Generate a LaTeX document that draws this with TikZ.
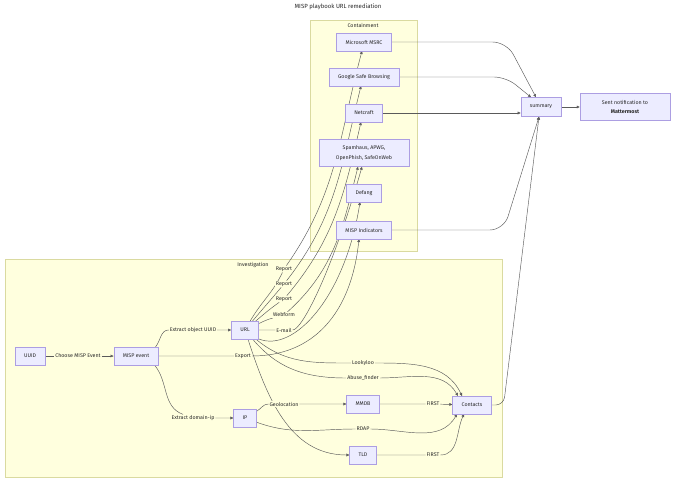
\documentclass[tikz,border=0pt]{standalone}
\usepackage{fontspec}
\setmainfont{Fira Sans}
\usetikzlibrary{arrows.meta,positioning}
\definecolor{mmfill}{RGB}{236,236,255}
\definecolor{mmdraw}{RGB}{172,158,226}
\definecolor{grpfill}{RGB}{255,255,222}
\definecolor{grpdraw}{RGB}{218,218,160}
\definecolor{mmline}{RGB}{90,90,90}
\definecolor{mmtext}{RGB}{40,40,40}
\pgfdeclarelayer{grouplayer}
\pgfdeclarelayer{edgelayer}
\pgfsetlayers{grouplayer,edgelayer,main}

\begin{document}
\begin{tikzpicture}[x=1pt,y=1pt,
box/.style={draw=mmdraw, fill=mmfill, line width=0.5pt, minimum height=17.5pt,
inner xsep=9pt, inner ysep=1pt, align=center, font=\fontsize{5.3}{9.5}\selectfont, text=mmtext},
grp/.style={draw=grpdraw, fill=grpfill, line width=0.5pt},
grplbl/.style={font=\fontsize{5.3}{6}\selectfont, text=mmtext, anchor=north},
lbl/.style={fill=grpfill, inner sep=0.8pt, font=\fontsize{5.3}{6}\selectfont, text=mmtext},
flow/.style={draw=mmline, line width=0.45pt, -{Triangle[length=3pt,width=2.8pt]}}
]
\useasboundingbox (0,0) rectangle (680,-482);

\node[font=\fontsize{6}{7}\selectfont, text=mmtext] (title) at (338,-7) {MISP playbook URL remediation};

\begin{pgfonlayer}{grouplayer}
\draw[grp] (310,-20) rectangle (417,-251);
\draw[grp] (5,-259) rectangle (502,-477);
\end{pgfonlayer}
\node[grplbl] (contain) at (363,-19.5) {Containment};
\node[grplbl] (invest) at (253,-258.5) {Investigation};

\node[box] (msrc) at (364,-42) {Microsoft MSRC};
\node[box] (gsb) at (364,-77) {Google Safe Browsing};
\node[box] (netcraft) at (364,-113) {Netcraft};
\node[box, minimum width=90pt, minimum height=27pt] (spamhaus) at (364,-153) {Spamhaus, APWG,\\OpenPhish, SafeOnWeb};
\node[box] (defang) at (364,-193) {Defang};
\node[box] (mispind) at (364,-230) {MISP Indicators};
\node[box, minimum height=19pt] (summary) at (541,-107) {summary};
\node[box, minimum width=90pt, minimum height=27pt] (notify) at (625,-107) {Sent notification to\\\textbf{Mattermost}};

\node[box] (uuid) at (30,-356) {UUID};
\node[box] (mispevt) at (136,-356) {MISP event};
\node[box] (url) at (245,-330) {URL};
\node[box] (ip) at (245,-418) {IP};
\node[box] (mmdb) at (363,-404) {MMDB};
\node[box] (tld) at (363,-455) {TLD};
\node[box] (contacts) at (472,-405) {Contacts};

\node[lbl] (lchoose) at (78,-356) {Choose MISP Event};
\node[lbl] (lobj) at (193,-330) {Extract object UUID};
\node[lbl] (ldom) at (193,-418) {Extract domain-ip};
\node[lbl] (lexport) at (243,-356) {Export};
\node[lbl] (lrepa) at (284,-269) {Report};
\node[lbl] (lrepb) at (284,-284) {Report};
\node[lbl] (lrepc) at (284,-299) {Report};
\node[lbl] (lweb) at (284,-315) {Webform};
\node[lbl] (lmail) at (284,-330) {E-mail};
\node[lbl] (llooky) at (363,-363) {Lookyloo};
\node[lbl] (labuse) at (363,-378) {Abuse\_finder};
\node[lbl] (lgeo) at (284,-404) {Geolocation};
\node[lbl] (lrdap) at (363,-429) {RDAP};
\node[lbl] (lfirsta) at (433,-404) {FIRST};
\node[lbl] (lfirstb) at (433,-455) {FIRST};

\begin{pgfonlayer}{edgelayer}
\draw[flow] (uuid) -- (lchoose) -- (mispevt);
\draw[flow] ([xshift=-3pt]mispevt.north east) to[out=50,in=180] (lobj) -- (url);
\draw[flow] ([xshift=-4pt]mispevt.south east) to[out=-50,in=160] (ldom) -- (ip);
\draw[flow] (mispevt) -- (lexport) .. controls +(70,0) and +(-8,-75) .. ([xshift=-5pt]mispind.south);

\draw[flow] (url) to[out=60,in=-115] (lrepa) to[out=55,in=-105] ([xshift=-2pt]msrc.south);
\draw[flow] (url) to[out=50,in=-130] (lrepb) to[out=52,in=-104] ([xshift=-3pt]gsb.south);
\draw[flow] (url) to[out=40,in=-145] (lrepc) to[out=50,in=-103] ([xshift=-3pt]netcraft.south);
\draw[flow] (url) to[out=25,in=-165] (lweb) to[out=42,in=-104] ([xshift=-6pt]spamhaus.south);
\draw[flow] (url) -- (lmail) .. controls +(18,0) and +(-30,-105) .. ([xshift=-2pt]spamhaus.south);
\draw[flow] (url.south east) .. controls +(35,-14) and +(-15,-95) .. ([xshift=-4pt]defang.south);

\draw[flow] (url) to[out=-40,in=180] (llooky) to[out=0,in=115] ([xshift=-10pt]contacts.north);
\draw[flow] (url) to[out=-50,in=180] (labuse) to[out=0,in=120] ([xshift=-14pt]contacts.north);
\draw[flow] (url) to[out=-72,in=180] (tld);
\draw[flow] (ip) to[out=30,in=180] (lgeo) -- (mmdb);
\draw[flow] (ip) to[out=-20,in=180] (lrdap) to[out=0,in=-120] ([xshift=-15pt]contacts.south);
\draw[flow] (mmdb) -- (lfirsta) -- (contacts);
\draw[flow] (tld) -- (lfirstb) to[out=0,in=-115] ([xshift=-8pt]contacts.south);

\draw[flow, rounded corners=14pt] (msrc.east) -- ++(115,0) -- ([xshift=-5pt]summary.north);
\draw[flow, rounded corners=12pt] (gsb.east) -- ++(107,0) -- ([xshift=-10pt]summary.north);
\draw[flow] (netcraft) -- (netcraft -| summary.west);
\draw[flow, rounded corners=14pt] (mispind.east) -- ++(112,0) -- ([xshift=-2pt]summary.south);
\draw[flow, rounded corners=8pt] (contacts.east) -- ++(12,0) -- ([xshift=-2pt]summary.south);
\draw[flow] (summary) -- (notify);
\end{pgfonlayer}

\end{tikzpicture}
\end{document}
